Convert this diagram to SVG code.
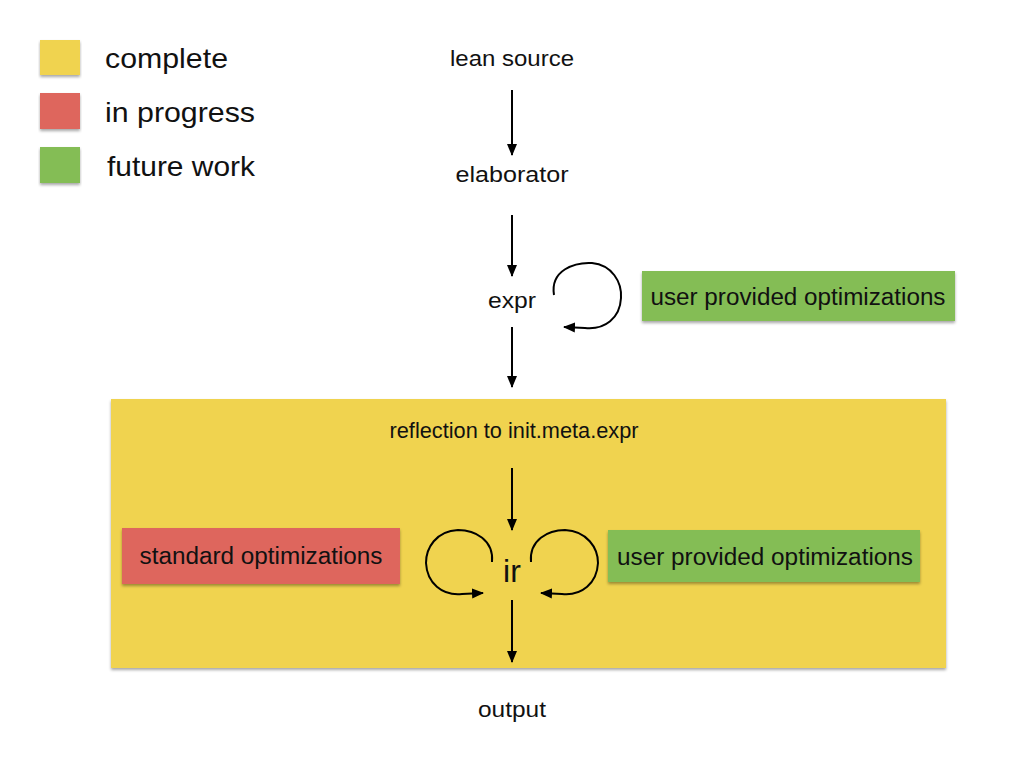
<svg xmlns="http://www.w3.org/2000/svg" width="1024" height="768" viewBox="0 0 1024 768">
<style>
  .t { font-family: "Liberation Sans", Arial, sans-serif; fill: #111; }
  .c { text-anchor: middle; }
  .ln { stroke: #000; stroke-width: 2; fill: none; }
  .yel { fill: #f0d350; }
  .red { fill: #de665d; }
  .grn { fill: #84bd55; }
</style>
<defs>
  <filter id="sh" x="-5%" y="-5%" width="110%" height="120%">
    <feDropShadow dx="0" dy="2" stdDeviation="1.5" flood-color="#000" flood-opacity="0.35"/>
  </filter>
  <marker id="ah" markerWidth="12" markerHeight="12" refX="11" refY="6" orient="auto" markerUnits="userSpaceOnUse">
    <path d="M0,1 L12,6 L0,11 Z" fill="#000"/>
  </marker>
</defs>
<rect width="1024" height="768" fill="#fff"/>

<g id="legend">
  <rect class="yel" x="40" y="40" width="40" height="35" filter="url(#sh)"/>
  <rect class="red" x="40" y="93" width="40" height="36" filter="url(#sh)"/>
  <rect class="grn" x="40" y="147" width="40" height="36" filter="url(#sh)"/>
  <text class="t" x="105" y="68" font-size="28" textLength="123" lengthAdjust="spacingAndGlyphs">complete</text>
  <text class="t" x="105" y="122" font-size="28" textLength="150" lengthAdjust="spacingAndGlyphs">in progress</text>
  <text class="t" x="107" y="176" font-size="28" textLength="148" lengthAdjust="spacingAndGlyphs">future work</text>
</g>

<g id="node-lean-source"><text class="t c" x="512" y="66" font-size="22" textLength="124" lengthAdjust="spacingAndGlyphs">lean source</text></g>
<g id="node-elaborator"><text class="t c" x="512" y="182" font-size="22" textLength="113" lengthAdjust="spacingAndGlyphs">elaborator</text></g>
<g id="node-expr"><text class="t c" x="512" y="308" font-size="22" textLength="48" lengthAdjust="spacingAndGlyphs">expr</text></g>
<g id="node-user-opt-1">
  <rect class="grn" x="642" y="271" width="313" height="50" filter="url(#sh)"/>
  <text class="t c" x="798" y="305" font-size="23" textLength="295" lengthAdjust="spacingAndGlyphs">user provided optimizations</text>
</g>
<g id="node-compiler-box">
  <rect class="yel" x="111" y="399" width="835" height="269" filter="url(#sh)"/>
</g>
<g id="node-reflection"><text class="t c" x="514" y="438" font-size="22" textLength="249" lengthAdjust="spacingAndGlyphs">reflection to init.meta.expr</text></g>
<g id="node-standard-opt">
  <rect class="red" x="122" y="528" width="278" height="56" filter="url(#sh)"/>
  <text class="t c" x="261" y="564" font-size="23" textLength="243" lengthAdjust="spacingAndGlyphs">standard optimizations</text>
</g>
<g id="node-user-opt-2">
  <rect class="grn" x="608" y="530" width="312" height="52" filter="url(#sh)"/>
  <text class="t c" x="765" y="565" font-size="23" textLength="296" lengthAdjust="spacingAndGlyphs">user provided optimizations</text>
</g>
<g id="node-ir"><text class="t c" x="512" y="582" font-size="32">ir</text></g>
<g id="node-output"><text class="t c" x="512" y="717" font-size="22" textLength="68" lengthAdjust="spacingAndGlyphs">output</text></g>

<g id="connectors">
  <line class="ln" x1="512" y1="90" x2="512" y2="155" marker-end="url(#ah)"/>
  <line class="ln" x1="512" y1="215" x2="512" y2="276" marker-end="url(#ah)"/>
  <line class="ln" x1="512" y1="327" x2="512" y2="387" marker-end="url(#ah)"/>
  <line class="ln" x1="512" y1="468" x2="512" y2="530" marker-end="url(#ah)"/>
  <line class="ln" x1="512" y1="600" x2="512" y2="662" marker-end="url(#ah)"/>
  <path class="ln" d="M554,295 C550,270 575,262 592,263 C612,265 622,282 621,298 C620,318 605,330 585,328 L564,327" marker-end="url(#ah)"/>
  <path class="ln" d="M492,562 C494,540 475,530 458,530 C436,531 426,548 426,563 C427,583 442,596 462,594 L483,593" marker-end="url(#ah)"/>
  <path class="ln" d="M531,562 C529,540 548,530 565,530 C587,531 598,548 598,563 C597,583 582,596 562,594 L541,593" marker-end="url(#ah)"/>
</g>
</svg>
